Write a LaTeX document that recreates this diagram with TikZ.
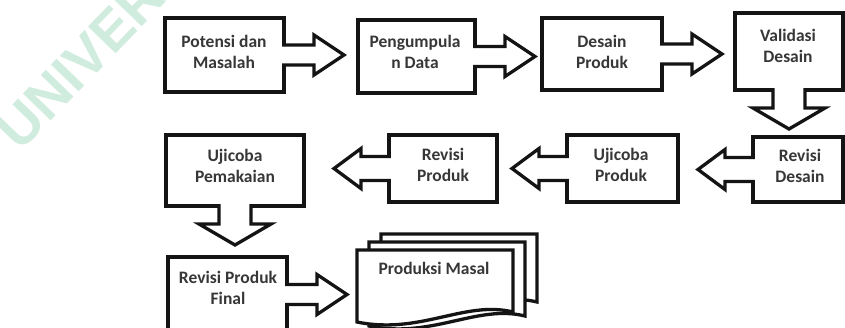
\documentclass[tikz,border=0pt]{standalone}
\usepackage{fontspec}
\setmainfont{Carlito}
\newfontfamily\wmfont{Liberation Sans}
\usetikzlibrary{calc}
\definecolor{wm}{RGB}{208,236,222}
\definecolor{ink}{RGB}{20,20,20}
\tikzset{
  box/.style={draw=ink, line width=3.6pt, fill=white, rectangle, inner sep=0pt, outer sep=0pt},
  lbl/.style={font=\bfseries\fontsize{17.5}{20.5}\selectfont, align=center, inner sep=0pt, text=ink!85},
  arrline/.style={draw=ink, line width=3.3pt, line join=miter},
  docshape/.style={draw=ink, line width=3.3pt, fill=white, line join=miter},
}
% block arrow leaving the east side of a node
\newcommand\rightarr[1]{%
  \fill[white] let \p1=(#1.east) in
    (\x1-2pt,\y1+10pt) -- (\x1+30pt,\y1+10pt) -- (\x1+30pt,\y1+20pt) -- (\x1+60pt,\y1)
    -- (\x1+30pt,\y1-20pt) -- (\x1+30pt,\y1-10pt) -- (\x1-2pt,\y1-10pt) -- cycle;
  \draw[arrline] let \p1=(#1.east) in
    (\x1-1.8pt,\y1+10pt) -- (\x1+30pt,\y1+10pt) -- (\x1+30pt,\y1+20pt) -- (\x1+60pt,\y1)
    -- (\x1+30pt,\y1-20pt) -- (\x1+30pt,\y1-10pt) -- (\x1-1.8pt,\y1-10pt);
}
% block arrow leaving the west side of a node
\newcommand\leftarr[1]{%
  \fill[white] let \p1=(#1.west) in
    (\x1+2pt,\y1+12pt) -- (\x1-28pt,\y1+12pt) -- (\x1-28pt,\y1+20pt) -- (\x1-55pt,\y1)
    -- (\x1-28pt,\y1-20pt) -- (\x1-28pt,\y1-12pt) -- (\x1+2pt,\y1-12pt) -- cycle;
  \draw[arrline] let \p1=(#1.west) in
    (\x1+1.8pt,\y1+12pt) -- (\x1-28pt,\y1+12pt) -- (\x1-28pt,\y1+20pt) -- (\x1-55pt,\y1)
    -- (\x1-28pt,\y1-20pt) -- (\x1-28pt,\y1-12pt) -- (\x1+1.8pt,\y1-12pt);
}
% block arrow leaving the south side of a node
\newcommand\downarr[1]{%
  \fill[white] let \p1=(#1.south) in
    (\x1-16pt,\y1+2pt) -- (\x1-16pt,\y1-18pt) -- (\x1-36pt,\y1-18pt) -- (\x1,\y1-39pt)
    -- (\x1+36pt,\y1-18pt) -- (\x1+16pt,\y1-18pt) -- (\x1+16pt,\y1+2pt) -- cycle;
  \draw[arrline] let \p1=(#1.south) in
    (\x1-16pt,\y1+1.8pt) -- (\x1-16pt,\y1-18pt) -- (\x1-36pt,\y1-18pt) -- (\x1,\y1-39pt)
    -- (\x1+36pt,\y1-18pt) -- (\x1+16pt,\y1-18pt) -- (\x1+16pt,\y1+1.8pt);
}
\begin{document}
\begin{tikzpicture}[x=1pt,y=-1pt]
\clip (0,0) rectangle (845,327);
\fill[white] (0,0) rectangle (845,327);

% watermark
\node[text=wm, font=\wmfont\bfseries\fontsize{56}{56}\selectfont, anchor=base west, rotate=46, inner sep=0pt] (wmk) at (20,153) {UNIVERSITAS};

% boxes
\node[box, minimum width=119pt, minimum height=74pt] (b1) at (224.5,55) {};
\node[box, minimum width=117pt, minimum height=73pt] (b2) at (416.5,56.5) {};
\node[box, minimum width=120pt, minimum height=72pt] (b3) at (602,54) {};
\node[box, minimum width=108pt, minimum height=77pt] (b4) at (789,51.5) {};
\node[box, minimum width=138pt, minimum height=71pt] (b5) at (235,170.5) {};
\node[box, minimum width=108pt, minimum height=67pt] (b6) at (443,168.5) {};
\node[box, minimum width=111pt, minimum height=67pt] (b7) at (622.5,168.5) {};
\node[box, minimum width=90pt, minimum height=65pt] (b8) at (798,169.5) {};
\node[box, minimum width=119pt, minimum height=75pt] (b9) at (227.5,294.5) {};

% stacked documents
\path[docshape] (381,234) -- (537,234) -- (537,302) .. controls (489,290) and (444,325) .. (381,312) -- cycle;
\path[docshape] (369,242) -- (525,242) -- (525,316) .. controls (477,304) and (432,339) .. (369,326) -- cycle;
\path[docshape] (357,250) -- (513,250) -- (513,312) .. controls (465,300) and (420,335) .. (357,322) -- cycle;
\coordinate (doc) at (357,293);

% block arrows
\rightarr{b1}
\rightarr{b2}
\rightarr{b3}
\downarr{b4}
\leftarr{b8}
\leftarr{b7}
\leftarr{b6}
\downarr{b5}
\rightarr{b9}

% labels
\node[lbl] (t1) at (224,52) {Potensi dan\\Masalah};
\node[lbl] (t2) at (415,52) {Pengumpula\\n Data};
\node[lbl] (t3) at (602,52) {Desain\\Produk};
\node[lbl] (t4) at (788,46) {Validasi\\Desain};
\node[lbl] (t5) at (235,166) {Ujicoba\\Pemakaian};
\node[lbl] (t6) at (443,165) {Revisi\\Produk};
\node[lbl] (t7) at (621,165) {Ujicoba\\Produk};
\node[lbl] (t8) at (800,166) {Revisi\\Desain};
\node[lbl] (t9) at (228,288) {Revisi Produk\\Final};
\node[lbl] (t10) at (434,268) {Produksi Masal};
\end{tikzpicture}
\end{document}
